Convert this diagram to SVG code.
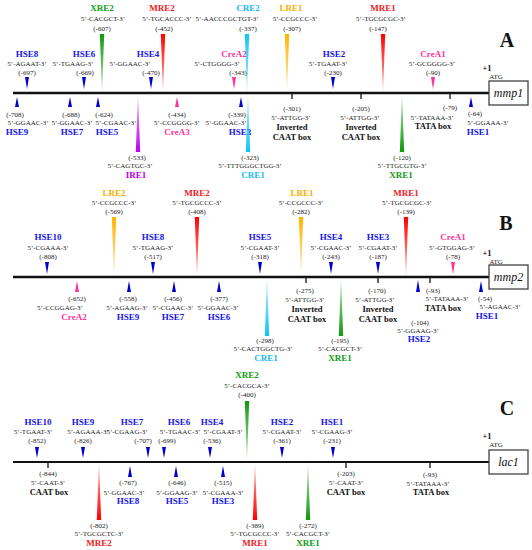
<svg xmlns="http://www.w3.org/2000/svg" width="532" height="550" viewBox="0 0 532 550">
<style>
text{font-family:"Liberation Serif","Times New Roman",serif;text-anchor:middle;fill:#222}
.l{font-weight:bold;font-size:9px}
.s{font-size:7px}
.b{font-weight:bold;font-size:8.5px;fill:#111}
.g{font-style:italic;font-size:12px;fill:#111}
.p{font-weight:bold;font-size:20px;fill:#111}
.o{font-weight:bold;font-size:8.5px;fill:#111}
.h{fill:#1414e6}.m{fill:#ee1c1c}.x{fill:#119a11}.r{fill:#f5b000}.c{fill:#1ab8ee}.i{fill:#b400dc}.k{fill:#ff3399}
.tb{fill:#0000cc}.tk{fill:#ff3399}
.line{stroke:#111;fill:none}
.tick{stroke:#111;stroke-width:1.3}
.box{fill:#fff;stroke:#333;stroke-width:1.2}
</style>
<defs>
<linearGradient id="gRd" x1="0" y1="0" x2="0" y2="1"><stop offset="0" stop-color="#ff0000"/><stop offset="1" stop-color="#ff0000" stop-opacity=".3"/></linearGradient>
<linearGradient id="gRu" x1="0" y1="1" x2="0" y2="0"><stop offset="0" stop-color="#ff0000"/><stop offset="1" stop-color="#ff0000" stop-opacity=".3"/></linearGradient>
<linearGradient id="gGd" x1="0" y1="0" x2="0" y2="1"><stop offset="0" stop-color="#119911"/><stop offset="1" stop-color="#119911" stop-opacity=".3"/></linearGradient>
<linearGradient id="gGu" x1="0" y1="1" x2="0" y2="0"><stop offset="0" stop-color="#119911"/><stop offset="1" stop-color="#119911" stop-opacity=".3"/></linearGradient>
<linearGradient id="gOd" x1="0" y1="0" x2="0" y2="1"><stop offset="0" stop-color="#ffb400"/><stop offset="1" stop-color="#ffb400" stop-opacity=".3"/></linearGradient>
<linearGradient id="gCd" x1="0" y1="0" x2="0" y2="1"><stop offset="0" stop-color="#11c4f4"/><stop offset="1" stop-color="#11c4f4" stop-opacity=".3"/></linearGradient>
<linearGradient id="gCu" x1="0" y1="1" x2="0" y2="0"><stop offset="0" stop-color="#11c4f4"/><stop offset="1" stop-color="#11c4f4" stop-opacity=".3"/></linearGradient>
<linearGradient id="gPu" x1="0" y1="1" x2="0" y2="0"><stop offset="0" stop-color="#c000f0"/><stop offset="1" stop-color="#c000f0" stop-opacity=".3"/></linearGradient>
</defs>

<g id="connectors">
<line class="line" x1="13" y1="93" x2="489" y2="93" stroke-width="2.5"/>
<line class="line" x1="13" y1="277" x2="489" y2="277" stroke-width="2.5"/>
<line class="line" x1="13" y1="462" x2="489" y2="462" stroke-width="1.8"/>
</g>

<!-- ===== Panel A ===== -->
<g id="A-label"><text class="p" x="507" y="47">A</text></g>
<g id="A-gene"><rect class="box" x="489" y="81" width="39" height="24"/><text class="g" x="508.5" y="97">mmp1</text><text class="o" x="487" y="71">+1</text><text class="s" x="496" y="78.5">ATG</text></g>
<g id="A-HSE8"><text class="l h" x="27" y="57">HSE8</text><text class="s" x="27" y="65.5">5’-AGAAT-3’</text><text class="s" x="27" y="75">(-697)</text><polygon class="tb" points="25,77 29,77 27,89"/></g>
<g id="A-HSE6"><text class="l h" x="84" y="57">HSE6</text><text class="s" x="73" y="65.5">5’-TGAAG-3’</text><text class="s" x="85" y="75">(-669)</text><polygon class="tb" points="82,77 86,77 84,89"/></g>
<g id="A-XRE2"><text class="l x" x="102" y="11">XRE2</text><text class="s" x="103" y="20.5">5’-CACGCT-3’</text><text class="s" x="102" y="30.5">(-607)</text><polygon fill="url(#gGd)" points="99.8,34 104.2,34 102,92"/></g>
<g id="A-HSE4"><text class="l h" x="148" y="57">HSE4</text><text class="s" x="130" y="65.5">5’-GGAAC-3’</text><text class="s" x="151" y="75">(-470)</text><polygon class="tb" points="149,77 153,77 151,89"/></g>
<g id="A-MRE2"><text class="l m" x="162" y="11">MRE2</text><text class="s" x="167" y="20.5">5’-TGCACCC-3’</text><text class="s" x="164" y="30.5">(-452)</text><polygon fill="url(#gRd)" points="160.8,34 165.2,34 163,92"/></g>
<g id="A-CreA2"><text class="l k" x="234" y="57">CreA2</text><text class="s" x="217" y="65.5">5’-CTGGGG-3’</text><text class="s" x="238" y="75">(-343)</text><polygon class="tk" points="232,77 236,77 234,89"/></g>
<g id="A-CRE2"><text class="l c" x="248" y="11">CRE2</text><text class="s" x="227" y="20.5">5’-AACCCGCTGT-3’</text><text class="s" x="248" y="30.5">(-337)</text><polygon fill="url(#gCd)" points="244.8,34 249.2,34 247,92"/></g>
<g id="A-LRE1"><text class="l r" x="291" y="11">LRE1</text><text class="s" x="295" y="20.5">5’-CCGCCC-3’</text><text class="s" x="292" y="30.5">(-307)</text><polygon fill="url(#gOd)" points="284.8,34 289.2,34 287,92"/></g>
<g id="A-HSE2"><text class="l h" x="334" y="57">HSE2</text><text class="s" x="328" y="65.5">5’-TGAAT-3’</text><text class="s" x="333" y="75">(-230)</text><polygon class="tb" points="331,77 335,77 333,89"/></g>
<g id="A-MRE1"><text class="l m" x="383" y="11">MRE1</text><text class="s" x="381" y="20.5">5’-TGCGCGC-3’</text><text class="s" x="378" y="30.5">(-147)</text><polygon fill="url(#gRd)" points="380.8,34 385.2,34 383,92"/></g>
<g id="A-CreA1"><text class="l k" x="433" y="57">CreA1</text><text class="s" x="432" y="65.5">5’-GCGGGG-3’</text><text class="s" x="433" y="75">(-90)</text><polygon class="tk" points="431,77 435,77 433,89"/></g>
<g id="A-HSE9"><polygon class="tb" points="17,97 15,107 19,107"/><text class="s" x="15" y="116.5">(-708)</text><text class="s" x="28" y="124.5">5’-GGAAC-3’</text><text class="l h" x="17" y="135">HSE9</text></g>
<g id="A-HSE7"><polygon class="tb" points="70,97 68,107 72,107"/><text class="s" x="71" y="116.5">(-688)</text><text class="s" x="72" y="124.5">5’-GGAAC-3’</text><text class="l h" x="72" y="135">HSE7</text></g>
<g id="A-HSE5"><polygon class="tb" points="98,97 96,107 100,107"/><text class="s" x="104" y="116.5">(-624)</text><text class="s" x="116" y="124.5">5’-CGAAC-3’</text><text class="l h" x="107" y="135">HSE5</text></g>
<g id="A-IRE1"><polygon fill="url(#gPu)" points="138,94 135.8,152 140.2,152"/><text class="s" x="137" y="159.5">(-533)</text><text class="s" x="130" y="167.5">5’-CAGTGC-3’</text><text class="l i" x="136" y="178">IRE1</text></g>
<g id="A-CreA3"><polygon class="tk" points="177,97 175,107 179,107"/><text class="s" x="177" y="116.5">(-434)</text><text class="s" x="177" y="124.5">5’-CCGGGG-3’</text><text class="l k" x="177" y="135">CreA3</text></g>
<g id="A-HSE3"><polygon class="tb" points="241,97 239,107 243,107"/><text class="s" x="237" y="116.5">(-339)</text><text class="s" x="226" y="124.5">5’-GGAAC-3’</text><text class="l h" x="240" y="135">HSE3</text></g>
<g id="A-CRE1"><polygon fill="url(#gCu)" points="248,94 245.8,152 250.2,152"/><text class="s" x="250" y="159.5">(-323)</text><text class="s" x="250" y="167.5">5’-TTTGGGCTGG-3’</text><text class="l c" x="253" y="178">CRE1</text></g>
<g id="A-CAAT301"><line class="tick" x1="292" y1="93" x2="292" y2="99"/><text class="s" x="292" y="110.5">(-301)</text><text class="s" x="291" y="119.5">5’-ATTGG-3’</text><text class="b" x="292" y="130">Inverted</text><text class="b" x="292" y="140">CAAT box</text></g>
<g id="A-CAAT205"><line class="tick" x1="361" y1="93" x2="361" y2="99"/><text class="s" x="361" y="110.5">(-205)</text><text class="s" x="360" y="119.5">5’-ATTGG-3’</text><text class="b" x="361" y="130">Inverted</text><text class="b" x="361" y="140">CAAT box</text></g>
<g id="A-XRE1"><polygon fill="url(#gGu)" points="402,94 399.8,152 404.2,152"/><text class="s" x="402" y="159.5">(-120)</text><text class="s" x="402" y="167.5">5’-TTGCGTG-3’</text><text class="l x" x="401" y="178">XRE1</text></g>
<g id="A-TATA"><line class="tick" x1="450" y1="93" x2="450" y2="99"/><text class="s" x="450" y="109.5">(-79)</text><text class="s" x="432" y="119.5">5’-TATAAA-3’</text><text class="b" x="433" y="129">TATA box</text></g>
<g id="A-HSE1"><polygon class="tb" points="471,97 469,107 473,107"/><text class="s" x="475" y="115.5">(-64)</text><text class="s" x="488" y="124.5">5’-GGAAA-3’</text><text class="l h" x="478" y="135">HSE1</text></g>

<!-- ===== Panel B ===== -->
<g id="B-label"><text class="p" x="506" y="230">B</text></g>
<g id="B-gene"><rect class="box" x="489" y="265" width="39" height="24"/><text class="g" x="508.5" y="281">mmp2</text><text class="o" x="487" y="256">+1</text><text class="s" x="496" y="263.5">ATG</text></g>
<g id="B-HSE10"><text class="l h" x="48" y="239.5">HSE10</text><text class="s" x="48" y="249.5">5’-CGAAA-3’</text><text class="s" x="48" y="259">(-808)</text><polygon class="tb" points="45,262 49,262 47,274"/></g>
<g id="B-LRE2"><text class="l r" x="114" y="195.5">LRE2</text><text class="s" x="114" y="204.5">5’-CCGCCC-3’</text><text class="s" x="114" y="214">(-569)</text><polygon fill="url(#gOd)" points="111.8,217 116.2,217 114,276"/></g>
<g id="B-HSE8"><text class="l h" x="153" y="239.5">HSE8</text><text class="s" x="153" y="249.5">5’-TGAAG-3’</text><text class="s" x="153" y="259">(-517)</text><polygon class="tb" points="151,262 155,262 153,274"/></g>
<g id="B-MRE2"><text class="l m" x="197" y="195.5">MRE2</text><text class="s" x="197" y="204.5">5’-TGCGCCC-3’</text><text class="s" x="197" y="214">(-408)</text><polygon fill="url(#gRd)" points="194.8,217 199.2,217 197,276"/></g>
<g id="B-HSE5"><text class="l h" x="260" y="239.5">HSE5</text><text class="s" x="260" y="249.5">5’-CGAAT-3’</text><text class="s" x="260" y="259">(-318)</text><polygon class="tb" points="258,262 262,262 260,274"/></g>
<g id="B-LRE1"><text class="l r" x="302" y="195.5">LRE1</text><text class="s" x="301" y="204.5">5’-CCGCCC-3’</text><text class="s" x="301" y="214">(-282)</text><polygon fill="url(#gOd)" points="298.8,217 303.2,217 301,276"/></g>
<g id="B-HSE4"><text class="l h" x="331" y="239.5">HSE4</text><text class="s" x="331" y="249.5">5’-CGAAC-3’</text><text class="s" x="331" y="259">(-243)</text><polygon class="tb" points="329,262 333,262 331,274"/></g>
<g id="B-HSE3"><text class="l h" x="378" y="239.5">HSE3</text><text class="s" x="378" y="249.5">5’-CGAAT-3’</text><text class="s" x="378" y="259">(-187)</text><polygon class="tb" points="376,262 380,262 378,274"/></g>
<g id="B-MRE1"><text class="l m" x="406" y="195.5">MRE1</text><text class="s" x="407" y="204.5">5’-TGCGCGC-3’</text><text class="s" x="406" y="214">(-139)</text><polygon fill="url(#gRd)" points="403.8,217 408.2,217 406,276"/></g>
<g id="B-CreA1"><text class="l k" x="453" y="239.5">CreA1</text><text class="s" x="452" y="249.5">5’-GTGGAG-3’</text><text class="s" x="453" y="259">(-78)</text><polygon class="tk" points="451,262 455,262 453,274"/></g>
<g id="B-CreA2"><polygon class="tk" points="77,281 75,292 79,292"/><text class="s" x="77" y="300.5">(-652)</text><text class="s" x="60" y="309.5">5’-CCGGAG-3’</text><text class="l k" x="74" y="320">CreA2</text></g>
<g id="B-HSE9"><polygon class="tb" points="129,281 127,292 131,292"/><text class="s" x="128" y="300.5">(-558)</text><text class="s" x="127" y="309.5">5’-AGAAG-3’</text><text class="l h" x="128" y="320">HSE9</text></g>
<g id="B-HSE7"><polygon class="tb" points="174,281 172,292 176,292"/><text class="s" x="173" y="300.5">(-456)</text><text class="s" x="173" y="309.5">5’-CGAAC-3’</text><text class="l h" x="173" y="320">HSE7</text></g>
<g id="B-HSE6"><polygon class="tb" points="219,281 217,292 221,292"/><text class="s" x="219" y="300.5">(-377)</text><text class="s" x="218" y="309.5">5’-GGAAC-3’</text><text class="l h" x="219" y="320">HSE6</text></g>
<g id="B-CRE1"><polygon fill="url(#gCu)" points="267,278 264.8,336 269.2,336"/><text class="s" x="265" y="342.5">(-298)</text><text class="s" x="263" y="350.5">5’-CACTGGCTG-3’</text><text class="l c" x="266" y="361">CRE1</text></g>
<g id="B-CAAT275"><line class="tick" x1="306" y1="277" x2="306" y2="283"/><text class="s" x="305" y="292.5">(-275)</text><text class="s" x="305" y="301.5">5’-ATTGG-3’</text><text class="b" x="307" y="312">Inverted</text><text class="b" x="307" y="322">CAAT box</text></g>
<g id="B-XRE1"><polygon fill="url(#gGu)" points="341,278 338.8,336 343.2,336"/><text class="s" x="340" y="342.5">(-195)</text><text class="s" x="340" y="350.5">5’-CACGCT-3’</text><text class="l x" x="340" y="361">XRE1</text></g>
<g id="B-CAAT170"><line class="tick" x1="378" y1="277" x2="378" y2="283"/><text class="s" x="377" y="292.5">(-170)</text><text class="s" x="375" y="301.5">5’-ATTGG-3’</text><text class="b" x="378" y="312">Inverted</text><text class="b" x="378" y="322">CAAT box</text></g>
<g id="B-HSE2"><polygon class="tb" points="418,280 416,292 420,292"/><text class="s" x="420" y="324.5">(-104)</text><text class="s" x="418" y="332.5">5’-GGAAG-3’</text><text class="l h" x="419" y="342">HSE2</text></g>
<g id="B-TATA"><line class="tick" x1="430" y1="277" x2="430" y2="283"/><text class="s" x="433" y="292.5">(-93)</text><text class="s" x="447" y="300.5">5’-TATAAA-3’</text><text class="b" x="443" y="311">TATA box</text></g>
<g id="B-HSE1"><polygon class="tb" points="481,281 479,292 483,292"/><text class="s" x="485" y="300.5">(-54)</text><text class="s" x="500" y="308.5">5’-AGAAC-3’</text><text class="l h" x="487" y="319">HSE1</text></g>

<!-- ===== Panel C ===== -->
<g id="C-label"><text class="p" x="507" y="415">C</text></g>
<g id="C-gene"><rect class="box" x="489" y="450" width="39" height="24"/><text class="g" x="508.5" y="466">lac1</text><text class="o" x="487" y="439">+1</text><text class="s" x="496" y="446.5">ATG</text></g>
<g id="C-HSE10"><text class="l h" x="38" y="424.5">HSE10</text><text class="s" x="33" y="433.5">5’-TGAAT-3’</text><text class="s" x="37" y="442.5">(-852)</text><polygon class="tb" points="35,447 39,447 37,458"/></g>
<g id="C-HSE9"><text class="l h" x="83" y="424.5">HSE9</text><text class="s" x="88" y="433.5">5’-AGAAA-3’</text><text class="s" x="83" y="442.5">(-826)</text><polygon class="tb" points="81,447 85,447 83,458"/></g>
<g id="C-HSE7"><text class="l h" x="132" y="424.5">HSE7</text><text class="s" x="127" y="433.5">5’-CGAAG-3’</text><text class="s" x="143" y="442.5">(-707)</text><polygon class="tb" points="146,447 150,447 148,458"/></g>
<g id="C-HSE6"><text class="l h" x="179" y="424.5">HSE6</text><text class="s" x="180" y="433.5">5’-TGAAC-3’</text><text class="s" x="167" y="442.5">(-699)</text><polygon class="tb" points="162,447 166,447 164,458"/></g>
<g id="C-HSE4"><text class="l h" x="212" y="424.5">HSE4</text><text class="s" x="223" y="433.5">5’-CGAAT-3’</text><text class="s" x="212" y="442.5">(-536)</text><polygon class="tb" points="208,447 212,447 210,458"/></g>
<g id="C-XRE2"><text class="l x" x="247" y="378">XRE2</text><text class="s" x="247" y="387.5">5’-CACGCA-3’</text><text class="s" x="247" y="396.5">(-400)</text><polygon fill="url(#gGd)" points="244.8,401 249.2,401 247,461"/></g>
<g id="C-HSE2"><text class="l h" x="282" y="424.5">HSE2</text><text class="s" x="282" y="433.5">5’-CGAAT-3’</text><text class="s" x="282" y="442.5">(-361)</text><polygon class="tb" points="280,447 284,447 282,458"/></g>
<g id="C-HSE1"><text class="l h" x="332" y="424.5">HSE1</text><text class="s" x="332" y="433.5">5’-CGAAG-3’</text><text class="s" x="332" y="442.5">(-231)</text><polygon class="tb" points="331,447 335,447 333,458"/></g>
<g id="C-CAAT844"><line class="tick" x1="48" y1="462" x2="48" y2="468"/><text class="s" x="48" y="475.5">(-844)</text><text class="s" x="48" y="484.5">5’-CAAT-3’</text><text class="b" x="49" y="495">CAAT box</text></g>
<g id="C-MRE2"><polygon fill="url(#gRu)" points="99,463 96.8,520 101.2,520"/><text class="s" x="99" y="527.5">(-802)</text><text class="s" x="99" y="535.5">5’-TGCGCTC-3’</text><text class="l m" x="99" y="546">MRE2</text></g>
<g id="C-HSE8"><polygon class="tb" points="130,466 128,477 132,477"/><text class="s" x="128" y="484.5">(-767)</text><text class="s" x="124" y="494.5">5’-GGAAC-3’</text><text class="l h" x="128" y="504">HSE8</text></g>
<g id="C-HSE5"><polygon class="tb" points="176,466 174,477 178,477"/><text class="s" x="177" y="484.5">(-646)</text><text class="s" x="177" y="494.5">5’-GGAAG-3’</text><text class="l h" x="177" y="504">HSE5</text></g>
<g id="C-HSE3"><polygon class="tb" points="223,466 221,477 225,477"/><text class="s" x="223" y="484.5">(-515)</text><text class="s" x="223" y="494.5">5’-CGAAA-3’</text><text class="l h" x="223" y="504">HSE3</text></g>
<g id="C-MRE1"><polygon fill="url(#gRu)" points="255,463 252.8,520 257.2,520"/><text class="s" x="255" y="527.5">(-389)</text><text class="s" x="255" y="535.5">5’-TGCGCCC-3’</text><text class="l m" x="255" y="546">MRE1</text></g>
<g id="C-XRE1"><polygon fill="url(#gGu)" points="308,463 305.8,520 310.2,520"/><text class="s" x="308" y="527.5">(-272)</text><text class="s" x="308" y="535.5">5’-CACGCT-3’</text><text class="l x" x="308" y="546">XRE1</text></g>
<g id="C-CAAT203"><line class="tick" x1="346" y1="462" x2="346" y2="468"/><text class="s" x="346" y="475.5">(-203)</text><text class="s" x="346" y="484.5">5’-CAAT-3’</text><text class="b" x="346" y="495">CAAT box</text></g>
<g id="C-TATA"><line class="tick" x1="430" y1="462" x2="430" y2="468"/><text class="s" x="430" y="476.5">(-93)</text><text class="s" x="428" y="485.5">5’-TATAAA-3’</text><text class="b" x="431" y="494.5">TATA box</text></g>
</svg>
